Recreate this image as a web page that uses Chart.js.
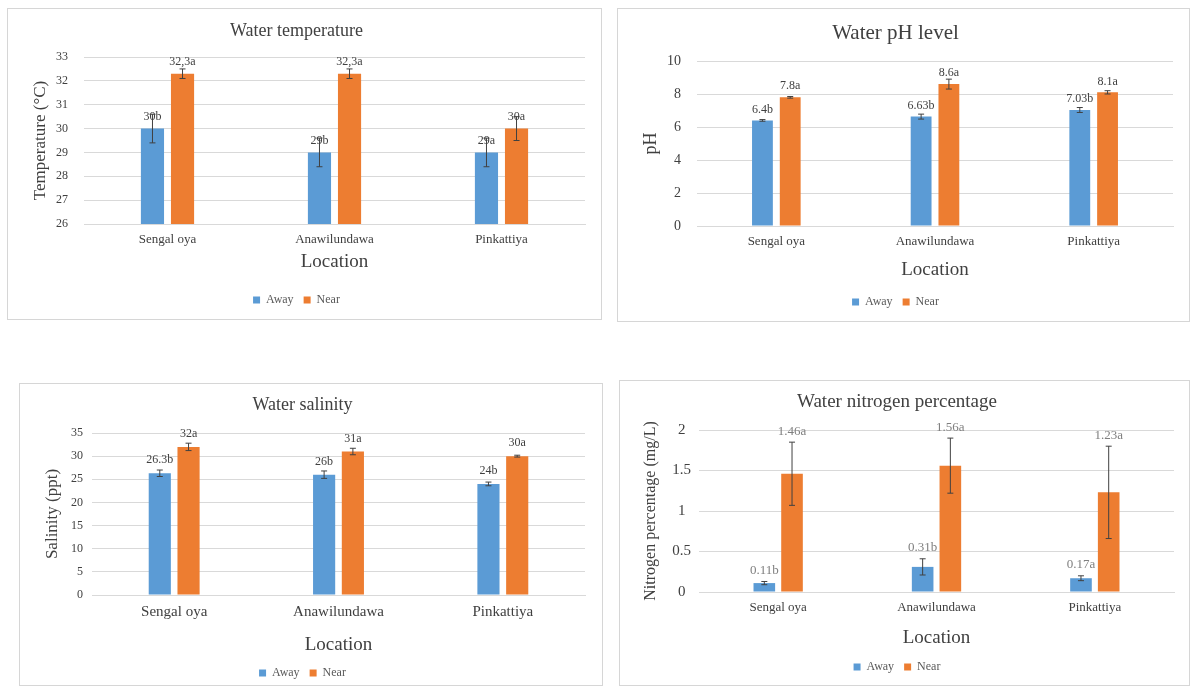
<!DOCTYPE html>
<html>
<head>
<meta charset="utf-8">
<script src="https://cdn.jsdelivr.net/npm/chart.js@4.4.0/dist/chart.umd.min.js"></script>
<style>
  body { margin: 0; background: #fff; width: 1190px; height: 686px; position: relative; overflow: hidden; }
  .panel { position: absolute; border: 1px solid #d6d6d6; box-sizing: border-box; background: #fff; }
  .panel canvas { position: absolute; left: 0; top: 0; }
</style>
</head>
<body>
<div class="panel" style="left:7px;top:8px;width:595px;height:312px"><canvas id="tempChart" width="593" height="310"></canvas></div>
<div class="panel" style="left:617px;top:8px;width:573px;height:314px"><canvas id="phChart" width="571" height="312"></canvas></div>
<div class="panel" style="left:19px;top:383px;width:584px;height:303px"><canvas id="salChart" width="582" height="301"></canvas></div>
<div class="panel" style="left:619px;top:380px;width:571px;height:306px"><canvas id="nitChart" width="569" height="304"></canvas></div>

<script>
// categories
var locations = ['Sengal oya', 'Anawilundawa', 'Pinkattiya'];

// water temperature (°C)
var tempAway = [30, 29, 29];
var tempNear = [32.3, 32.3, 30];
var tempAwayErr = [0.6, 0.6, 0.6];
var tempNearErr = [0.2, 0.2, 0.5];
var tempAwayText = ['30b', '29b', '29a'];
var tempNearText = ['32,3a', '32,3a', '30a'];
var tempTicks = [26, 33, 1];   // min, max, step

// water pH
var phAway = [6.4, 6.63, 7.03];
var phNear = [7.8, 8.6, 8.1];
var phAwayErr = [0.05, 0.15, 0.15];
var phNearErr = [0.05, 0.3, 0.1];
var phAwayText = ['6.4b', '6.63b', '7.03b'];
var phNearText = ['7.8a', '8.6a', '8.1a'];
var phTicks = [0, 10, 2];

// water salinity (ppt)
var salAway = [26.3, 26, 24];
var salNear = [32, 31, 30];
var salAwayErr = [0.7, 0.8, 0.4];
var salNearErr = [0.8, 0.7, 0.2];
var salAwayText = ['26.3b', '26b', '24b'];
var salNearText = ['32a', '31a', '30a'];
var salTicks = [0, 35, 5];

// water nitrogen (mg/L)
var nitAway = [0.11, 0.31, 0.17];
var nitNear = [1.46, 1.56, 1.23];
var nitAwayErr = [0.02, 0.1, 0.03];
var nitNearErr = [0.39, 0.34, 0.57];
var nitAwayText = ['0.11b', '0.31b', '0.17a'];
var nitNearText = ['1.46a', '1.56a', '1.23a'];
var nitTicks = [0, 2, 0.5];

var FONT = "'Liberation Serif', 'Times New Roman', serif";
var BLUE = '#5B9BD5';
var ORANGE = '#ED7D31';

// draws the error bars and the letter labels above each bar
var errLabelPlugin = {
    id: 'errLabels',
    afterDatasetsDraw: function(chart, args, opts) {
        var ctx = chart.ctx;
        var y = chart.scales.y;
        ctx.save();
        chart.data.datasets.forEach(function(ds, di) {
            var meta = chart.getDatasetMeta(di);
            meta.data.forEach(function(bar, i) {
                var v = ds.data[i];
                var e = ds.errors[i];
                var yTop = y.getPixelForValue(v + e);
                var yBot = y.getPixelForValue(v - e);
                ctx.strokeStyle = opts.errColor;
                ctx.lineWidth = 1;
                ctx.beginPath();
                ctx.moveTo(bar.x, yTop); ctx.lineTo(bar.x, yBot);
                ctx.moveTo(bar.x - 3, yTop); ctx.lineTo(bar.x + 3, yTop);
                ctx.moveTo(bar.x - 3, yBot); ctx.lineTo(bar.x + 3, yBot);
                ctx.stroke();

                var anchor = opts.onError ? yTop : bar.y;
                ctx.fillStyle = opts.color;
                ctx.font = opts.size + 'px ' + FONT;
                ctx.textAlign = 'center';
                ctx.textBaseline = 'middle';
                ctx.fillText(ds.texts[i], bar.x, anchor - opts.gap);
            });
        });
        ctx.restore();
    }
};

function makeChart(id, L, d) {
    var canvas = document.getElementById(id);
    var W = canvas.width, H = canvas.height;
    var titleLh = L.titleSize * 1.2;
    var locLh = L.locSize * 1.2;
    var yLh = L.yTitleSize * 1.2;
    var legTop = L.legendY - 10 - L.legendSize / 2;
    var legBottom = L.legendY + 10 + L.legendSize / 2;

    new Chart(canvas, {
        type: 'bar',
        data: {
            labels: locations,
            datasets: [
                { label: 'Away', data: d.away, errors: d.awayErr, texts: d.awayText, backgroundColor: BLUE },
                { label: 'Near', data: d.near, errors: d.nearErr, texts: d.nearText, backgroundColor: ORANGE }
            ]
        },
        options: {
            responsive: false,
            animation: false,
            layout: { padding: { left: 0, top: 0, right: W - L.plotRight, bottom: H - legBottom } },
            datasets: { bar: { categoryPercentage: L.catPct, barPercentage: L.barPct } },
            plugins: {
                title: {
                    display: true,
                    text: d.title,
                    color: '#404040',
                    font: { family: FONT, size: L.titleSize, weight: 'normal' },
                    padding: { top: L.titleY - titleLh / 2, bottom: L.plotTop - L.titleY - titleLh / 2 }
                },
                legend: {
                    position: 'bottom',
                    labels: {
                        boxWidth: 7, boxHeight: 7, padding: 10,
                        color: '#595959',
                        font: { family: FONT, size: L.legendSize }
                    }
                },
                tooltip: { enabled: false },
                errLabels: { color: L.labelColor, errColor: L.errColor, size: L.labelSize, gap: L.labelGap, onError: L.onError }
            },
            scales: {
                x: {
                    grid: { display: false, drawTicks: false },
                    border: { color: '#d9d9d9' },
                    ticks: {
                        color: '#404040',
                        font: { family: FONT, size: L.xTickSize },
                        padding: L.xTickY - L.plotBottom - 0.6 * L.xTickSize
                    },
                    title: {
                        display: true,
                        text: 'Location',
                        color: '#404040',
                        font: { family: FONT, size: L.locSize },
                        padding: { top: 0, bottom: legTop - L.locY - locLh / 2 }
                    },
                    afterFit: function(s) { s.height = legTop - L.plotBottom; }
                },
                y: {
                    min: d.ticks[0],
                    max: d.ticks[1],
                    ticks: {
                        stepSize: d.ticks[2],
                        color: '#404040',
                        crossAlign: L.yCross,
                        padding: L.yTickPad,
                        font: { family: FONT, size: L.yTickSize },
                        callback: function(v) { return String(v); }
                    },
                    grid: { color: '#d9d9d9', drawTicks: false },
                    border: { display: false },
                    title: {
                        display: true,
                        text: d.yTitle,
                        color: '#404040',
                        font: { family: FONT, size: L.yTitleSize },
                        padding: { top: L.yTitleX - yLh / 2, bottom: 0 }
                    },
                    afterFit: function(s) { s.width = L.plotLeft; }
                }
            }
        },
        plugins: [errLabelPlugin]
    });
}

makeChart('tempChart', {
    plotLeft: 76, plotRight: 577, plotTop: 48, plotBottom: 215,
    titleY: 22, titleSize: 18, yTitleX: 33, yTitleSize: 17, yTickSize: 12, yTickPad: 16, yCross: 'near',
    xTickY: 231, xTickSize: 13, locY: 253, locSize: 19, legendY: 291, legendSize: 12,
    catPct: 0.36, barPct: 0.77, labelColor: '#404040', errColor: '#404040', labelSize: 12, labelGap: 12, onError: false
}, {
    title: 'Water temperature', yTitle: 'Temperature (\u00B0C)', ticks: tempTicks,
    away: tempAway, near: tempNear, awayErr: tempAwayErr, nearErr: tempNearErr, awayText: tempAwayText, nearText: tempNearText
});

makeChart('phChart', {
    plotLeft: 79, plotRight: 555, plotTop: 52, plotBottom: 217,
    titleY: 24, titleSize: 21, yTitleX: 33, yTitleSize: 18, yTickSize: 14, yTickPad: 16, yCross: 'near',
    xTickY: 233, xTickSize: 13, locY: 261, locSize: 19, legendY: 293, legendSize: 12,
    catPct: 0.35, barPct: 0.75, labelColor: '#404040', errColor: '#404040', labelSize: 12, labelGap: 11, onError: false
}, {
    title: 'Water pH level', yTitle: 'pH', ticks: phTicks,
    away: phAway, near: phNear, awayErr: phAwayErr, nearErr: phNearErr, awayText: phAwayText, nearText: phNearText
});

makeChart('salChart', {
    plotLeft: 72, plotRight: 565, plotTop: 49, plotBottom: 211,
    titleY: 21, titleSize: 18, yTitleX: 33, yTitleSize: 17, yTickSize: 12, yTickPad: 9, yCross: 'near',
    xTickY: 228, xTickSize: 15, locY: 261, locSize: 19, legendY: 289, legendSize: 12,
    catPct: 0.35, barPct: 0.77, labelColor: '#404040', errColor: '#404040', labelSize: 12, labelGap: 13, onError: false
}, {
    title: 'Water salinity', yTitle: 'Salinity (ppt)', ticks: salTicks,
    away: salAway, near: salNear, awayErr: salAwayErr, nearErr: salNearErr, awayText: salAwayText, nearText: salNearText
});

makeChart('nitChart', {
    plotLeft: 79, plotRight: 554, plotTop: 49, plotBottom: 211,
    titleY: 21, titleSize: 19, yTitleX: 31, yTitleSize: 16, yTickSize: 15, yTickPad: 8, yCross: 'center',
    xTickY: 227, xTickSize: 13, locY: 257, locSize: 19, legendY: 286, legendSize: 12,
    catPct: 0.35, barPct: 0.78, labelColor: '#7f7f7f', errColor: '#404040', labelSize: 13, labelGap: 11, onError: true
}, {
    title: 'Water nitrogen percentage', yTitle: 'Nitrogen percentage (mg/L)', ticks: nitTicks,
    away: nitAway, near: nitNear, awayErr: nitAwayErr, nearErr: nitNearErr, awayText: nitAwayText, nearText: nitNearText
});
</script>
</body>
</html>
